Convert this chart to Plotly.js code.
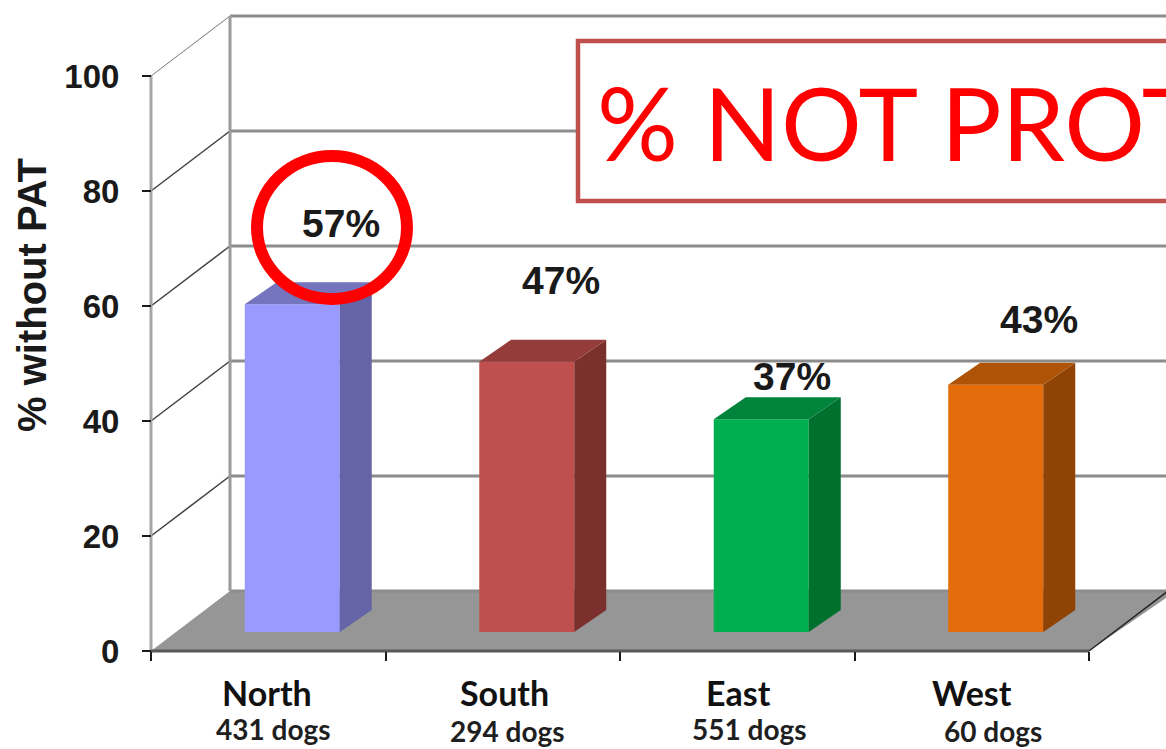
<!DOCTYPE html>
<html>
<head>
<meta charset="utf-8">
<script src="https://cdn.plot.ly/plotly-3.0.1.min.js"></script>
<style>html,body{margin:0;padding:0;background:#fff;overflow:hidden}</style>
</head>
<body>
<div id="chart" style="width:1166px;height:749px"></div>
<script>
// Share of dogs without protective antibody titre, by region
const regions = ['North', 'South', 'East', 'West'];
const dogCounts = ['431 dogs', '294 dogs', '551 dogs', '60 dogs'];
const percentWithoutPat = [57, 47, 37, 43];
const yTicks = [0, 20, 40, 60, 80, 100];
const frontColors = ['#9999ff', '#c0504d', '#00b050', '#e46c0a'];
const sideColors = ['#6464a6', '#7b302e', '#00702f', '#8f4406'];
const topColors = ['#7575bf', '#943c3a', '#00843b', '#af5406'];
const calloutText = '% NOT PROT';
const yAxisTitle = '% without PAT';

const W = 1166, H = 749;
// Pixel scale of the axes: 234.5 px per category, 5.75 px per percentage point
const pxX = 234.5, pxY = 5.75;
const originX = 151, originY = 651;
const xAt = p => (p - originX) / pxX - 0.5;
const yAt = p => (originY - p) / pxY;
const paperX = p => p / W;
const paperY = p => 1 - p / H;

// Depth of the floor and of each bar, in axis units
const wallDx = 79 / pxX, wallDy = 60 / pxY;
const barShiftX = 24 / pxX, barBase = 19 / pxY;
const barWidth = 95 / pxX, barDx = 32 / pxX, barDy = 22 / pxY;
const xRight = xAt(W + 10);

const shapes = [];
// Floor
shapes.push({type: 'path', layer: 'below', xref: 'x', yref: 'y',
  path: `M ${-0.5} 0 L ${-0.5 + wallDx} ${wallDy} L ${xRight} ${wallDy} L ${3.5} 0 Z`,
  fillcolor: '#969696', line: {width: 0}});
// Back-wall gridlines and the diagonals joining them to the front axis
yTicks.forEach(t => {
  shapes.push({type: 'line', layer: 'below', xref: 'x', yref: 'y',
    x0: -0.5 + wallDx, x1: xRight, y0: t + wallDy, y1: t + wallDy,
    line: {color: '#8c8c8c', width: 3}});
  if (t > 0) shapes.push({type: 'line', layer: 'below', xref: 'x', yref: 'y',
    x0: -0.5, x1: -0.5 + wallDx, y0: t, y1: t + wallDy,
    line: {color: t === 100 ? '#777777' : '#404040', width: t === 100 ? 1 : 1.5}});
});
// Wall corner, front axis, floor edges
shapes.push({type: 'line', layer: 'below', xref: 'x', yref: 'y', x0: -0.5 + wallDx, x1: -0.5 + wallDx,
  y0: wallDy, y1: 100 + wallDy, line: {color: '#9a9a9a', width: 3}});
shapes.push({type: 'line', layer: 'below', xref: 'x', yref: 'y', x0: -0.5, x1: -0.5,
  y0: 0, y1: 100, line: {color: '#a6a6a6', width: 3}});
shapes.push({type: 'line', layer: 'below', xref: 'x', yref: 'y', x0: -0.5, x1: 3.5,
  y0: 0, y1: 0, line: {color: '#595959', width: 3}});
shapes.push({type: 'line', layer: 'below', xref: 'x', yref: 'y', x0: 3.5, x1: 3.5 + wallDx,
  y0: 0, y1: wallDy, line: {color: '#262626', width: 1.5}});
// Callout frame and the ring around the first value
shapes.push({type: 'rect', layer: 'above', xref: 'paper', yref: 'paper',
  x0: paperX(578), x1: paperX(1190), y0: paperY(41), y1: paperY(201),
  fillcolor: '#ffffff', line: {color: '#c0504d', width: 4.5}});
shapes.push({type: 'circle', layer: 'above', xref: 'paper', yref: 'paper',
  x0: paperX(257), x1: paperX(407), y0: paperY(156), y1: paperY(299),
  line: {color: '#ff0000', width: 12}});

const traces = [];
const centers = regions.map((_, i) => i + barShiftX);
// Side and top faces of each bar, worked out from its value
regions.forEach((r, i) => {
  const v = percentWithoutPat[i], c = centers[i];
  const l = c - barWidth / 2, rt = c + barWidth / 2;
  traces.push({type: 'scatter', mode: 'lines', fill: 'toself', hoverinfo: 'skip', showlegend: false,
    x: [rt, rt + barDx, rt + barDx, rt, rt],
    y: [barBase, barBase + barDy, barBase + v + barDy, barBase + v, barBase],
    fillcolor: sideColors[i], line: {width: 0}});
  traces.push({type: 'scatter', mode: 'lines', fill: 'toself', hoverinfo: 'skip', showlegend: false,
    x: [l, rt, rt + barDx, l + barDx, l],
    y: [barBase + v, barBase + v, barBase + v + barDy, barBase + v + barDy, barBase + v],
    fillcolor: topColors[i], line: {width: 0}});
});
// Front faces
traces.push({type: 'bar', x: centers, y: percentWithoutPat, base: barBase, width: barWidth,
  marker: {color: frontColors, line: {width: 0}}, showlegend: false,
  hovertemplate: '%{y}%<extra></extra>'});

const bold = '"Liberation Sans", Arial, sans-serif';
const calibriLike = 'Lato, "Noto Sans", sans-serif';
const valueLabelPos = [[341, 223], [561, 280], [792, 376], [1039, 319]];
const regionLabelPos = [[267, 692], [504, 692], [738, 692], [972, 692]];
const dogLabelPos = [[273, 729], [507, 731], [749, 729], [993, 731]];

const label = (text, pos, font) => ({xref: 'paper', yref: 'paper', x: paperX(pos[0]), y: paperY(pos[1]),
  xanchor: 'center', yanchor: 'middle', text, showarrow: false, font});

const annotations = [];
regions.forEach((r, i) => {
  annotations.push(label(percentWithoutPat[i] + '%', valueLabelPos[i], {family: bold, size: 39, color: '#1a1a1a', weight: 700}));
  annotations.push(label(r, regionLabelPos[i], {family: calibriLike, size: 34, color: '#111111', weight: 700}));
  annotations.push(label(dogCounts[i], dogLabelPos[i], {family: calibriLike, size: 28, color: '#1f1f1f', weight: 700}));
});
annotations.push({xref: 'paper', yref: 'paper', x: paperX(595), y: paperY(122), xanchor: 'left', yanchor: 'middle',
  text: calloutText, showarrow: false, font: {family: calibriLike, size: 101, color: '#ff0000'}});
annotations.push({xref: 'paper', yref: 'paper', x: paperX(32), y: paperY(295), xanchor: 'center', yanchor: 'middle',
  textangle: -90, text: yAxisTitle, showarrow: false, font: {family: bold, size: 40, color: '#1a1a1a', weight: 700}});

const layout = {
  width: W, height: H, margin: {l: 0, r: 0, t: 0, b: 0},
  paper_bgcolor: '#ffffff', plot_bgcolor: '#ffffff', showlegend: false, barmode: 'overlay',
  xaxis: {range: [xAt(0), xAt(W)], anchor: 'free', position: paperY(651), tickmode: 'array',
    tickvals: [-0.5, 0.5, 1.5, 2.5, 3.5], showticklabels: false, ticks: 'outside', ticklen: 9,
    tickwidth: 2, tickcolor: '#1a1a1a', showgrid: false, zeroline: false, showline: false, fixedrange: true},
  yaxis: {range: [yAt(H), yAt(0)], anchor: 'free', position: paperX(151), tickmode: 'array',
    tickvals: yTicks, ticks: 'outside', ticklen: 9, tickwidth: 2, tickcolor: '#1a1a1a',
    ticklabelstandoff: 16,
    tickfont: {family: bold, size: 33, color: '#1a1a1a', weight: 700},
    showgrid: false, zeroline: false, showline: false, fixedrange: true},
  shapes, annotations
};
Plotly.newPlot('chart', traces, layout, {displayModeBar: false, responsive: false});
</script>
</body>
</html>
